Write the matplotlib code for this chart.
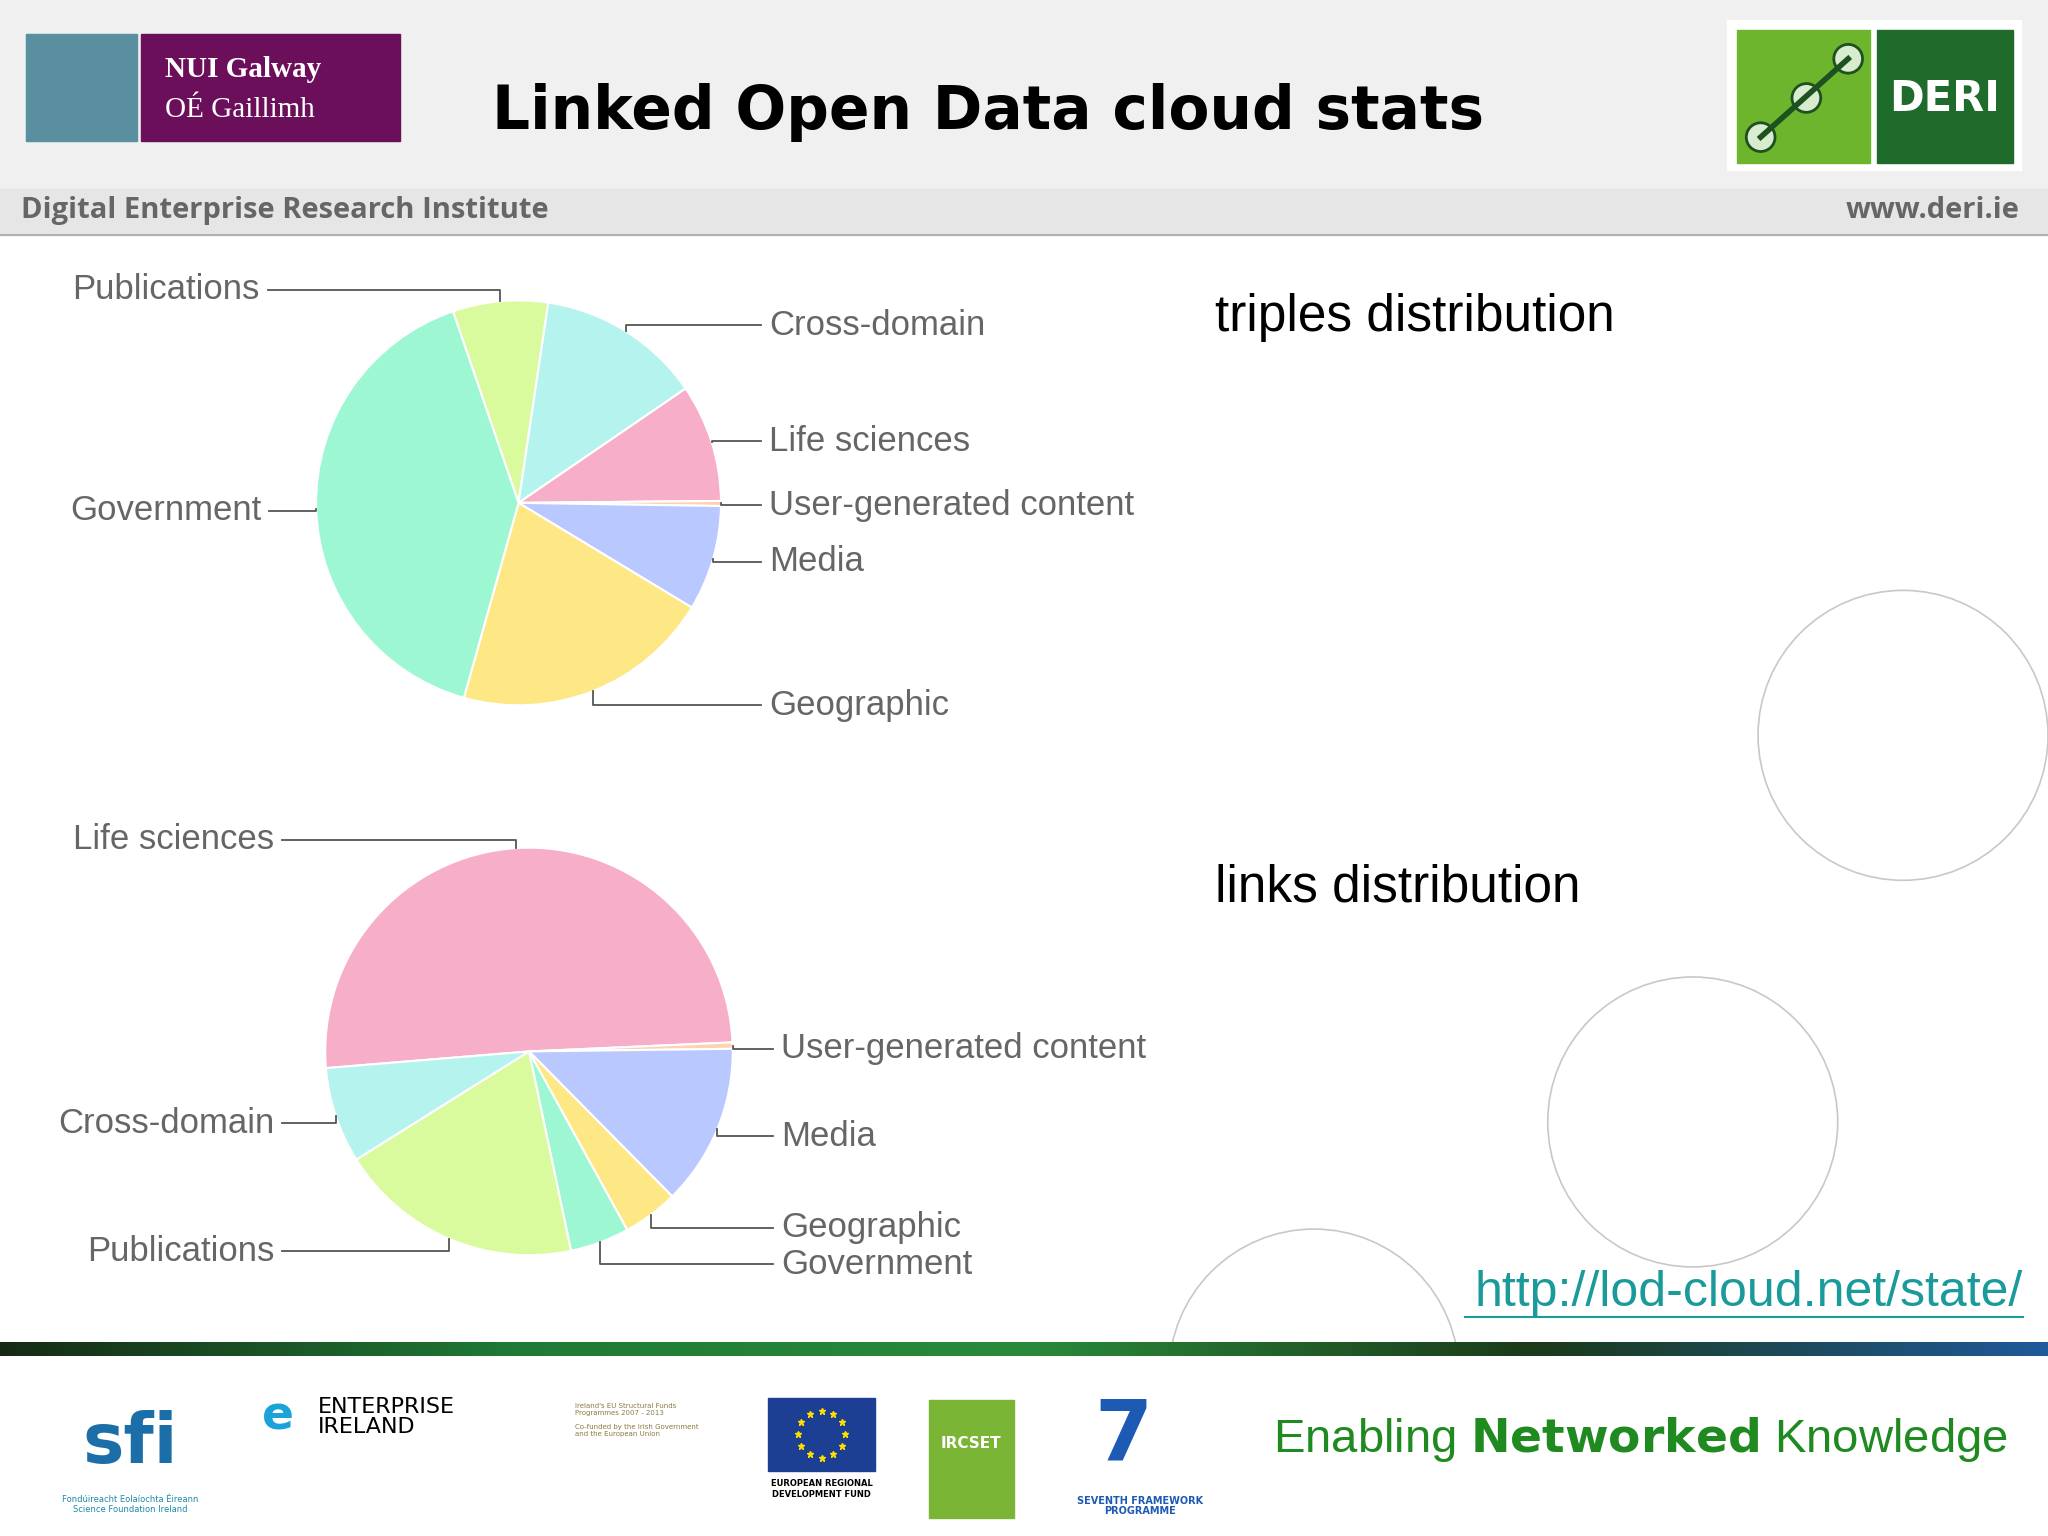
import numpy as np
import matplotlib.pyplot as plt
from matplotlib.patches import Rectangle, Circle
from matplotlib.colors import LinearSegmentedColormap

# data (percent)
triples_labels = ['Publications', 'Cross-domain', 'Life sciences', 'User-generated content',
                  'Media', 'Geographic', 'Government']
triples_values = [7.6, 13.1, 9.4, 0.4, 8.4, 20.7, 40.4]
links_labels = ['Life sciences', 'User-generated content', 'Media', 'Geographic',
                'Government', 'Publications', 'Cross-domain']
links_values = [50.6, 0.5, 12.8, 4.4, 4.7, 19.4, 7.6]

colors = {'Government': '#9cf7d2', 'Publications': '#d9fb9e', 'Cross-domain': '#b5f4ee',
          'Life sciences': '#f7aec8', 'User-generated content': '#fcd2b0',
          'Media': '#b9c8fe', 'Geographic': '#fee785'}

W, H = 1568, 1176
def Y(p):
    return H - p

fig = plt.figure(figsize=(20.48, 15.36), dpi=100)
ax = fig.add_axes([0, 0, 1, 1])
ax.set_xlim(0, W); ax.set_ylim(0, H); ax.axis('off')

# header
ax.add_patch(Rectangle((0, Y(145)), W, 145, color='#f0f0f0', zorder=0))
ax.add_patch(Rectangle((0, Y(180)), W, 35, color='#e6e6e6', zorder=0))
ax.plot([0, W], [Y(180), Y(180)], color='#b0b0b0', lw=1.5)
ax.add_patch(Rectangle((20, Y(108)), 85, 82, color='#5a8fa0'))
ax.add_patch(Rectangle((108, Y(108)), 198, 82, color='#6b0f5a'))
ax.text(126, Y(53), 'NUI Galway', color='white', fontsize=21, family='Liberation Serif',
        weight='bold', va='center')
ax.text(126, Y(84), 'OÉ Gaillimh', color='white', fontsize=21, family='Liberation Serif',
        va='center')
ax.text(377, Y(86), 'Linked Open Data cloud stats', fontsize=43, weight='bold',
        family='DejaVu Sans', va='center')
ax.add_patch(Rectangle((1322, Y(130)), 225, 115, color='white'))
ax.add_patch(Rectangle((1330, Y(125)), 102, 102, color='#6cb52d'))
ax.add_patch(Rectangle((1437, Y(125)), 104, 102, color='#1e6b2c'))
ax.plot([1348, 1415], [Y(105), Y(45)], color='#1e5020', lw=4)
for cx, cy in [(1348, 105), (1383, 75), (1415, 45)]:
    ax.add_patch(Circle((cx, Y(cy)), 11, fc='#d8ecd0', ec='#1e5020', lw=2))
ax.text(1489, Y(76), 'DERI', color='white', fontsize=30, weight='bold', ha='center', va='center')
ax.text(16, Y(161), 'Digital Enterprise Research Institute', fontsize=21, color='#666666',
        weight='bold', va='center', family='Open Sans')
ax.text(1546, Y(161), 'www.deri.ie', fontsize=21, color='#666666', weight='bold',
        va='center', ha='right', family='Open Sans')

# decorative circles
for cx, cy, r in [(1457, 563, 111), (1296, 859, 111), (1006, 1052, 111)]:
    ax.add_patch(Circle((cx, Y(cy)), r, fill=False, ec='#c8c8c8', lw=1.2, zorder=1))

ax.text(930, Y(243), 'triples distribution', fontsize=37, va='center', family='Liberation Sans')
ax.text(930, Y(680), 'links distribution', fontsize=37, va='center', family='Liberation Sans')


def draw_pie(labels, values, center, r, start, label_pos):
    wedges, _ = ax.pie(values, colors=[colors[l] for l in labels], center=(center[0], Y(center[1])),
                       radius=r, startangle=start, counterclock=False,
                       wedgeprops=dict(edgecolor='white', linewidth=1.5), frame=True)
    for w, lab in zip(wedges, labels):
        ang = np.deg2rad((w.theta1 + w.theta2) / 2)
        ex = center[0] + r * np.cos(ang)
        ey = Y(center[1]) + r * np.sin(ang)
        lx, ly, side = label_pos[lab]
        ax.plot([ex, ex, lx], [ey, Y(ly), Y(ly)], color='#555555', lw=1.3, zorder=3)
        if side == 'r':
            ax.text(lx + 6, Y(ly), lab, fontsize=25, color='#666666', va='center',
                    family='Liberation Sans')
        else:
            ax.text(lx - 6, Y(ly), lab, fontsize=25, color='#666666', va='center', ha='right',
                    family='Liberation Sans')


draw_pie(triples_labels, triples_values, (397, 385), 155, 108.9,
         {'Publications': (205, 222, 'l'), 'Cross-domain': (583, 249, 'r'),
          'Life sciences': (583, 338, 'r'), 'User-generated content': (583, 387, 'r'),
          'Media': (583, 430, 'r'), 'Geographic': (583, 540, 'r'),
          'Government': (206, 391, 'l')})
draw_pie(links_labels, links_values, (405, 805), 156, 184.7,
         {'Life sciences': (216, 643, 'l'), 'User-generated content': (592, 803, 'r'),
          'Media': (592, 870, 'r'), 'Geographic': (592, 940, 'r'),
          'Government': (592, 968, 'r'), 'Publications': (216, 958, 'l'),
          'Cross-domain': (216, 860, 'l')})
ax.set_xlim(0, W); ax.set_ylim(0, H); ax.set_aspect('equal'); ax.axis('off')

ax.text(1549, Y(990), 'http://lod-cloud.net/state/', fontsize=36, color='#1a9a9a',
        ha='right', va='center', family='Liberation Sans')
ax.plot([1122, 1549], [Y(1008), Y(1008)], color='#1a9a9a', lw=1.5)

# footer
bar_cmap = LinearSegmentedColormap.from_list('bar', ['#152a15', '#1f7a35', '#2a8a3a', '#1a3a1a', '#1f5a9a'])
grad = np.linspace(0, 1, 256).reshape(1, -1)
ax.imshow(grad, extent=(0, W, Y(1038), Y(1028)), cmap=bar_cmap, aspect='auto', zorder=2)
ax.add_patch(Rectangle((0, 0), W, Y(1038), color='white', zorder=1))
ax.text(100, Y(1105), 'sfi', fontsize=50, color='#1b6ea8', weight='bold', ha='center', va='center')
ax.text(100, Y(1152), 'Fondúireacht Eolaíochta Éireann\nScience Foundation Ireland', fontsize=6,
        color='#1b8aa8', ha='center', va='center')
ax.text(213, Y(1085), 'e', fontsize=34, color='#1aa3d8', ha='center', va='center', weight='bold')
ax.text(243, Y(1085), 'ENTERPRISE\nIRELAND', fontsize=16, va='center', linespacing=1.0)
ax.text(440, Y(1087), "Ireland's EU Structural Funds\nProgrammes 2007 - 2013\n\nCo-funded by the Irish Government\nand the European Union",
        fontsize=5, color='#8a7a40', va='center')
ax.add_patch(Rectangle((588, Y(1126)), 82, 56, color='#1c3f94'))
for a in np.linspace(0, 2 * np.pi, 12, endpoint=False):
    ax.plot(629 + 18 * np.cos(a), Y(1098) + 18 * np.sin(a), '*', color='#ffdd00', ms=5)
ax.text(629, Y(1140), 'EUROPEAN REGIONAL\nDEVELOPMENT FUND', fontsize=6, weight='bold',
        ha='center', va='center')
ax.add_patch(Rectangle((711, Y(1162)), 65, 90, color='#7ab535'))
ax.text(743, Y(1105), 'IRCSET', fontsize=11, color='white', weight='bold', ha='center', va='center')
ax.text(860, Y(1100), '7', fontsize=60, color='#1c5ab4', ha='center', va='center', weight='bold')
ax.text(873, Y(1153), 'SEVENTH FRAMEWORK\nPROGRAMME', fontsize=7, color='#1c5ab4',
        weight='bold', ha='center', va='center', linespacing=0.9)
ax.text(1537, Y(1102), r'Enabling $\bf{Networked}$ Knowledge', fontsize=34, color='#1f8a1f',
        ha='right', va='center', family='Liberation Sans')

fig.savefig('out.png', dpi=100)
